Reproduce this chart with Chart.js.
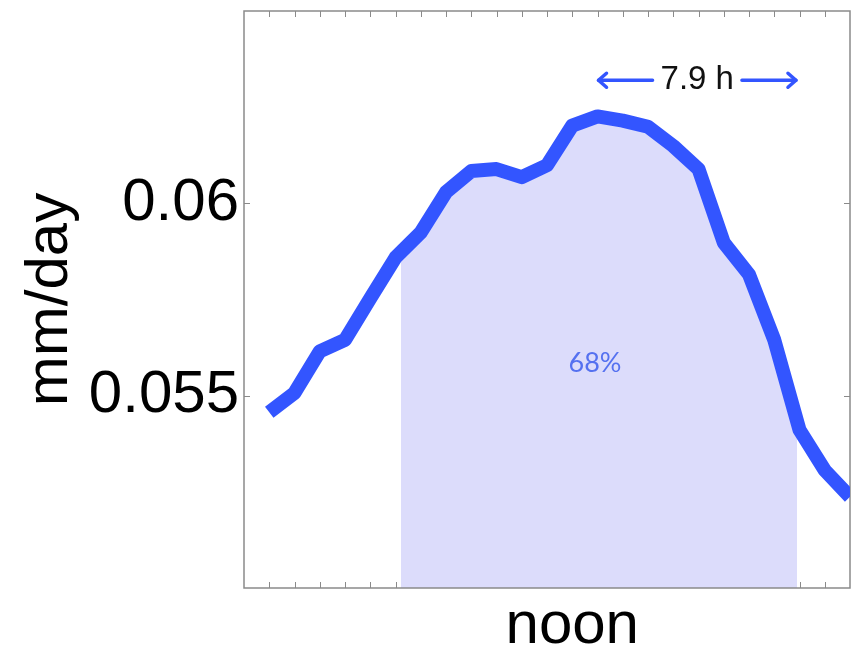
<!DOCTYPE html>
<html>
<head>
<meta charset="utf-8">
<script src="https://cdn.jsdelivr.net/npm/chart.js@4.4.1/dist/chart.umd.min.js"></script>
<style>
  body { margin: 0; background: #fff; }
  #wrap { width: 853px; height: 660px; }
</style>
</head>
<body>
<div id="wrap"><canvas id="rain" width="853" height="660"></canvas></div>
<script>
// hour of day (0 = midnight) and mean rate in mm/day
const HOURS = [0, 1, 2, 3, 4, 5, 6, 7, 8, 9, 10, 11, 12, 13, 14, 15, 16, 17, 18, 19, 20, 21, 22, 23];
const RATE = [
    0.05457, 0.05507, 0.05615, 0.05645, 0.05753, 0.05859, 0.05924, 0.06029,
    0.06084, 0.06089, 0.06068, 0.06099, 0.06202, 0.06226, 0.06215, 0.06199,
    0.06149, 0.06089, 0.05898, 0.05815, 0.05645, 0.05411, 0.05306, 0.05237
];
const Y_TICKS = [0.055, 0.06];
const X_TICKS = [0, 1, 2, 3, 4, 5, 6, 7, 8, 9, 10, 11, 12, 13, 14, 15, 16, 17, 18, 19, 20, 21, 22];
const NOON = 12;

// shaded window, the 7.9 h span and the share label
const SHADE_FROM = 5.22;
const SHADE_TO = 20.9;
const SPAN_FROM = 13;
const SPAN_TO = 20.9;
const SPAN_LABEL = '7.9 h';
const SHARE_LABEL = '68%';
const SHARE_AT = [12.9, 0.05585];
const SPAN_Y = 0.0632;

const LINE_COLOR = '#3355ff';
const SHADE_COLOR = '#dcdcfb';
const FRAME_COLOR = '#8a8a8a';
const FONT = '"Liberation Sans", Arial, sans-serif';

function arrowHead(ctx, x, y, dir) {
    ctx.beginPath();
    ctx.moveTo(x - dir * 8, y - 7);
    ctx.lineTo(x, y);
    ctx.lineTo(x - dir * 8, y + 7);
    ctx.stroke();
}

const frame = {
    id: 'frame',
    beforeDatasetsDraw(chart) {
        const {ctx, chartArea: a, scales: {x, y}} = chart;
        ctx.save();

        // inward ticks on all four sides
        ctx.strokeStyle = FRAME_COLOR;
        ctx.lineWidth = 1;
        ctx.beginPath();
        x.ticks.forEach(t => {
            const px = Math.round(x.getPixelForValue(t.value)) + 0.5;
            ctx.moveTo(px, a.top); ctx.lineTo(px, a.top + 6);
            ctx.moveTo(px, a.bottom); ctx.lineTo(px, a.bottom - 6);
        });
        y.ticks.forEach(t => {
            const py = Math.round(y.getPixelForValue(t.value)) + 0.5;
            ctx.moveTo(a.left, py); ctx.lineTo(a.left + 6, py);
            ctx.moveTo(a.right, py); ctx.lineTo(a.right - 6, py);
        });
        ctx.stroke();

        // shaded part under the curve
        const pts = chart.getDatasetMeta(0).data;
        const x0 = x.getPixelForValue(SHADE_FROM);
        const x1 = x.getPixelForValue(SHADE_TO);
        ctx.save();
        ctx.beginPath();
        ctx.rect(x0, a.top, x1 - x0, a.bottom - a.top);
        ctx.clip();
        ctx.beginPath();
        ctx.moveTo(pts[0].x, a.bottom);
        pts.forEach(p => ctx.lineTo(p.x, p.y));
        ctx.lineTo(pts[pts.length - 1].x, a.bottom);
        ctx.closePath();
        ctx.fillStyle = SHADE_COLOR;
        ctx.fill();
        ctx.restore();

        // box
        ctx.lineWidth = 1.5;
        ctx.strokeRect(a.left, a.top, a.right - a.left, a.bottom - a.top);

        ctx.fillStyle = '#5571f0';
        ctx.font = '27px Lato, "Open Sans", sans-serif';
        ctx.textAlign = 'center';
        ctx.textBaseline = 'middle';
        ctx.fillText(SHARE_LABEL, x.getPixelForValue(SHARE_AT[0]), y.getPixelForValue(SHARE_AT[1]));
        ctx.restore();
    },
    afterDatasetsDraw(chart) {
        const {ctx, scales: {x, y}} = chart;
        const xa = x.getPixelForValue(SPAN_FROM);
        const xb = x.getPixelForValue(SPAN_TO);
        const py = y.getPixelForValue(SPAN_Y);
        const mid = (xa + xb) / 2;
        ctx.save();
        ctx.font = '33px ' + FONT;
        ctx.fillStyle = '#111';
        ctx.textAlign = 'center';
        ctx.textBaseline = 'middle';
        ctx.fillText(SPAN_LABEL, mid, py);
        const half = ctx.measureText(SPAN_LABEL).width / 2;

        ctx.strokeStyle = LINE_COLOR;
        ctx.lineWidth = 3.5;
        ctx.lineCap = 'round';
        ctx.lineJoin = 'round';
        ctx.beginPath();
        ctx.moveTo(mid - half - 8, py); ctx.lineTo(xa + 1, py);
        ctx.moveTo(mid + half + 8, py); ctx.lineTo(xb - 1, py);
        ctx.stroke();
        arrowHead(ctx, xa + 1, py, -1);
        arrowHead(ctx, xb - 1, py, 1);
        ctx.restore();
    }
};

new Chart(document.getElementById('rain'), {
    type: 'line',
    data: {
        datasets: [{
            data: HOURS.map((h, i) => ({x: h, y: RATE[i]})),
            borderColor: LINE_COLOR,
            borderWidth: 14,
            borderJoinStyle: 'round',
            borderCapStyle: 'butt',
            pointRadius: 0,
            tension: 0,
            fill: false
        }]
    },
    options: {
        responsive: false,
        animation: false,
        events: [],
        layout: {padding: {top: 11, right: 3, left: 0, bottom: 0}},
        plugins: {legend: {display: false}, tooltip: {enabled: false}},
        scales: {
            x: {
                type: 'linear',
                min: -1,
                max: 23,
                grid: {display: false, drawTicks: false},
                border: {display: false},
                afterBuildTicks: s => { s.ticks = X_TICKS.map(v => ({value: v})); },
                afterFit: s => { s.height = 72; s.paddingLeft = 0; s.paddingRight = 0; },
                ticks: {
                    autoSkip: false,
                    maxRotation: 0,
                    padding: 8,
                    color: '#000',
                    font: {family: FONT, size: 60, lineHeight: 1},
                    callback: v => v === NOON ? 'noon' : ''
                }
            },
            y: {
                min: 0.05,
                max: 0.065,
                grid: {display: false, drawTicks: false},
                border: {display: false},
                afterBuildTicks: s => { s.ticks = Y_TICKS.map(v => ({value: v})); },
                afterFit: s => { s.width = 244; s.paddingTop = 0; s.paddingBottom = 0; },
                ticks: {
                    padding: 5,
                    color: '#000',
                    font: {family: FONT, size: 60, lineHeight: 1},
                    callback: v => String(v)
                },
                title: {
                    display: true,
                    text: 'mm/day',
                    color: '#000',
                    font: {family: FONT, size: 60, lineHeight: 1},
                    padding: {top: 20, bottom: 0}
                }
            }
        }
    },
    plugins: [frame]
});
</script>
</body>
</html>
